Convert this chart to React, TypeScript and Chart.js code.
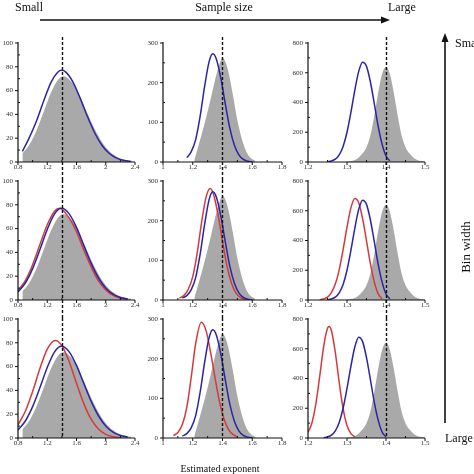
import React, { useEffect, useRef } from 'react';
import { Chart, registerables } from 'chart.js';

Chart.register(...registerables);

const FONT = "'Liberation Serif', 'Times New Roman', serif";
const BLUE = '#2a24a6';
const RED = '#d43a3c';
const GRAY = '#a9a9a9';

// ---- tick values / labels ----
const X1_TICKS = [0.8, 1.2, 1.6, 2.0, 2.4];
const X1_LABELS = ['0.8', '1.2', '1.6', '2', '2.4'];
const X2_TICKS = [1.0, 1.2, 1.4, 1.6, 1.8];
const X2_LABELS = ['1', '1.2', '1.4', '1.6', '1.8'];
const X3_TICKS = [1.2, 1.3, 1.4, 1.5];
const X3_LABELS = ['1.2', '1.3', '1.4', '1.5'];
const Y1_TICKS = [0, 20, 40, 60, 80, 100];
const Y2_TICKS = [0, 100, 200, 300];
const Y3_TICKS = [0, 200, 400, 600, 800];
const TRUE_EXPONENT = 1.4;

// ---- column 1 (smallest sample) ----
const G1_X = [0.86, 0.95, 1.05, 1.15, 1.25, 1.35, 1.42, 1.45, 1.55, 1.65, 1.75, 1.85, 1.95, 2.05, 2.15, 2.25, 2.35];
const G1_Y = [7.1, 14.0, 26.1, 42.0, 58.1, 69.4, 72.0, 71.7, 65.9, 54.7, 40.8, 27.5, 16.7, 9.1, 4.5, 2.0, 0.8];
const B11_X = [0.86, 0.95, 1.05, 1.15, 1.25, 1.35, 1.395, 1.45, 1.55, 1.65, 1.75, 1.85, 1.95, 2.05, 2.15, 2.25, 2.35];
const B11_Y = [9, 19.8, 34.0, 51, 66.7, 75.9, 77, 75.7, 67.4, 53.7, 38.2, 24.4, 13.9, 7.1, 3.2, 1.3, 0.5];
const B1_X = [0.8, 0.9, 1.0, 1.1, 1.2, 1.3, 1.395, 1.5, 1.6, 1.7, 1.8, 1.9, 2.0, 2.1, 2.2, 2.3];
const B1_Y = [6.8, 14.3, 26.4, 42.4, 59.3, 72.4, 77, 72.4, 61, 45.9, 31, 18.7, 10.1, 4.9, 2.1, 0.8];
const R21_X = [0.8, 0.9, 1.0, 1.1, 1.2, 1.3, 1.37, 1.5, 1.6, 1.7, 1.8, 1.9, 2.0, 2.1, 2.2, 2.3];
const R21_Y = [7.8, 16.3, 29.6, 46.6, 63.2, 74.6, 77, 68.8, 57.4, 42, 27.8, 16, 8.5, 3.9, 1.6, 0.6];
const R31_X = [0.8, 0.9, 1.0, 1.1, 1.2, 1.31, 1.4, 1.5, 1.6, 1.7, 1.8, 1.9, 2.0, 2.1, 2.2];
const R31_Y = [11.1, 22.5, 39.1, 58.4, 74.7, 82, 77.6, 64, 46, 28.9, 15.8, 7.5, 3.1, 1.1, 0.3];

// ---- column 2 ----
const G2_X = [1.21, 1.23, 1.26, 1.29, 1.32, 1.35, 1.38, 1.40, 1.42, 1.44, 1.47, 1.50, 1.53, 1.56, 1.59, 1.62];
const G2_Y = [4, 30, 70, 112, 158, 207, 248, 262, 252, 227, 169, 105, 58, 26, 10, 3];
const B2_X = [1.13, 1.16, 1.19, 1.22, 1.25, 1.28, 1.31, 1.335, 1.36, 1.39, 1.42, 1.45, 1.48, 1.51, 1.54, 1.57, 1.60];
const B2_Y = [5, 11, 26, 57, 116, 191, 253, 273, 258, 209, 144, 84, 42, 18, 6.5, 2, 0.5];
const R22_X = [1.11, 1.14, 1.17, 1.20, 1.23, 1.26, 1.29, 1.317, 1.34, 1.37, 1.40, 1.43, 1.46, 1.49, 1.52, 1.55, 1.58];
const R22_Y = [5, 11, 27, 59, 119, 197, 260, 281, 266, 215, 148, 86, 43, 18, 6.5, 2, 0.5];
const R32_X = [1.07, 1.10, 1.13, 1.16, 1.19, 1.22, 1.258, 1.29, 1.32, 1.35, 1.38, 1.41, 1.44, 1.47, 1.50];
const R32_Y = [6, 14, 34, 77, 154, 239, 292, 270, 216, 151, 91, 48, 22, 9, 3];

// ---- column 3 (largest sample) ----
const G3_X = [1.30, 1.31, 1.32, 1.33, 1.34, 1.35, 1.36, 1.37, 1.38, 1.39, 1.40, 1.41, 1.42, 1.43, 1.44, 1.45, 1.46, 1.47, 1.48, 1.49, 1.50];
const G3_Y = [2, 6, 14, 30, 58, 100, 178, 311, 465, 591, 640, 591, 465, 311, 178, 100, 58, 30, 14, 6, 2];
const B3_X = [1.25, 1.26, 1.27, 1.28, 1.29, 1.30, 1.31, 1.32, 1.33, 1.34, 1.35, 1.36, 1.37, 1.38, 1.39, 1.40, 1.41];
const B3_Y = [2, 7, 19, 48, 105, 200, 333, 482, 609, 671, 643, 538, 392, 240, 120, 40, 8];
const B33_X = [1.24, 1.25, 1.26, 1.27, 1.28, 1.29, 1.30, 1.31, 1.32, 1.33, 1.34, 1.35, 1.36, 1.37, 1.38, 1.39, 1.40];
const B33_Y = [2, 7, 19, 48, 105, 200, 333, 482, 612, 678, 648, 540, 392, 240, 120, 40, 8];
const R23_X = [1.23, 1.24, 1.25, 1.26, 1.27, 1.28, 1.29, 1.30, 1.31, 1.32, 1.33, 1.34, 1.35, 1.36, 1.37, 1.38, 1.39];
const R23_Y = [2, 7, 19, 49, 107, 203, 338, 490, 619, 682, 654, 547, 398, 244, 122, 41, 8];
const R33_X = [1.20, 1.21, 1.22, 1.23, 1.24, 1.25, 1.254, 1.26, 1.27, 1.28, 1.29, 1.30, 1.31, 1.32];
const R33_Y = [37, 101, 227, 414, 613, 738, 750, 723, 576, 373, 197, 84, 29, 8];

// ---- layout ----
const PAD_L = 24;
const PAD_R = 12;
const PAD_T = 10;
const PAD_B = 18;
const COLS = [
  { l: 18, r: 135 },
  { l: 163, r: 282 },
  { l: 308, r: 425 },
];
const ROWS = [
  { t: 43, b: 162 },
  { t: 181, b: 300 },
  { t: 319, b: 438 },
];

type Series = { xs: number[]; ys: number[]; kind: 'fill' | 'line'; color?: string };

const COL_AXES = [
  { xMin: 0.8, xMax: 2.4, xTicks: X1_TICKS, xLabels: X1_LABELS, yMax: 100, yTicks: Y1_TICKS },
  { xMin: 1.0, xMax: 1.8, xTicks: X2_TICKS, xLabels: X2_LABELS, yMax: 300, yTicks: Y2_TICKS },
  { xMin: 1.2, xMax: 1.5, xTicks: X3_TICKS, xLabels: X3_LABELS, yMax: 800, yTicks: Y3_TICKS },
];

const PANELS: Series[][][] = [
  [
    [{ xs: G1_X, ys: G1_Y, kind: 'fill' }, { xs: B11_X, ys: B11_Y, kind: 'line', color: BLUE }],
    [{ xs: G2_X, ys: G2_Y, kind: 'fill' }, { xs: B2_X.slice(1), ys: B2_Y.slice(1), kind: 'line', color: BLUE }],
    [{ xs: G3_X, ys: G3_Y, kind: 'fill' }, { xs: B3_X, ys: B3_Y, kind: 'line', color: BLUE }],
  ],
  [
    [{ xs: G1_X, ys: G1_Y, kind: 'fill' }, { xs: R21_X, ys: R21_Y, kind: 'line', color: RED }, { xs: B1_X, ys: B1_Y, kind: 'line', color: BLUE }],
    [{ xs: G2_X, ys: G2_Y, kind: 'fill' }, { xs: R22_X, ys: R22_Y, kind: 'line', color: RED }, { xs: B2_X, ys: B2_Y, kind: 'line', color: BLUE }],
    [{ xs: G3_X, ys: G3_Y, kind: 'fill' }, { xs: R23_X, ys: R23_Y, kind: 'line', color: RED }, { xs: B3_X, ys: B3_Y, kind: 'line', color: BLUE }],
  ],
  [
    [{ xs: G1_X, ys: G1_Y, kind: 'fill' }, { xs: R31_X, ys: R31_Y, kind: 'line', color: RED }, { xs: B1_X, ys: B1_Y, kind: 'line', color: BLUE }],
    [{ xs: G2_X, ys: G2_Y, kind: 'fill' }, { xs: R32_X, ys: R32_Y, kind: 'line', color: RED }, { xs: B2_X, ys: B2_Y, kind: 'line', color: BLUE }],
    [{ xs: G3_X, ys: G3_Y, kind: 'fill' }, { xs: R33_X, ys: R33_Y, kind: 'line', color: RED }, { xs: B33_X, ys: B33_Y, kind: 'line', color: BLUE }],
  ],
];

function midpoints(a: number[]): number[] {
  const out: number[] = [];
  for (let i = 0; i < a.length - 1; i++) out.push((a[i] + a[i + 1]) / 2);
  return out;
}

function Panel({ row, col }: { row: number; col: number }) {
  const ref = useRef<HTMLCanvasElement | null>(null);
  const c = COLS[col];
  const r = ROWS[row];
  const w = c.r - c.l + PAD_L + PAD_R;
  const h = r.b - r.t + PAD_T + PAD_B;
  const ax = COL_AXES[col];

  useEffect(() => {
    const canvas = ref.current;
    if (!canvas) return;
    const series = PANELS[row][col];
    const datasets = series.map((s, i) => {
      const data = s.xs.map((x, k) => ({ x, y: s.ys[k] }));
      if (s.kind === 'fill') {
        return {
          data,
          borderWidth: 0,
          borderColor: GRAY,
          backgroundColor: GRAY,
          fill: 'origin',
          pointRadius: 0,
          cubicInterpolationMode: 'monotone' as const,
          order: 10,
        };
      }
      return {
        data,
        borderWidth: 1.5,
        borderColor: s.color,
        backgroundColor: s.color,
        fill: false,
        pointRadius: 0,
        cubicInterpolationMode: 'monotone' as const,
        order: 5 - i,
      };
    });

    const decor = {
      id: 'decor' + row + col,
      afterDraw(chart: any) {
        const { ctx, chartArea } = chart;
        const xs = chart.scales.x;
        const ys = chart.scales.y;
        ctx.save();
        ctx.strokeStyle = '#111';
        ctx.lineWidth = 1.2;
        ctx.beginPath();
        ctx.moveTo(chartArea.left, chartArea.top - 1);
        ctx.lineTo(chartArea.left, chartArea.bottom);
        ctx.lineTo(chartArea.right, chartArea.bottom);
        ctx.stroke();
        ctx.lineWidth = 1;
        ctx.beginPath();
        for (const v of ax.xTicks) {
          const p = xs.getPixelForValue(v);
          ctx.moveTo(p, chartArea.bottom);
          ctx.lineTo(p, chartArea.bottom + 3);
        }
        for (const v of midpoints(ax.xTicks)) {
          const p = xs.getPixelForValue(v);
          ctx.moveTo(p, chartArea.bottom);
          ctx.lineTo(p, chartArea.bottom - 2);
        }
        for (const v of ax.yTicks) {
          const p = ys.getPixelForValue(v);
          ctx.moveTo(chartArea.left, p);
          ctx.lineTo(chartArea.left - 3, p);
        }
        for (const v of midpoints(ax.yTicks)) {
          const p = ys.getPixelForValue(v);
          ctx.moveTo(chartArea.left, p);
          ctx.lineTo(chartArea.left + 2, p);
        }
        ctx.stroke();
        // dashed reference line at the true exponent
        const px = Math.round(xs.getPixelForValue(TRUE_EXPONENT)) + 0.5;
        const y0 = row === 0 ? chartArea.top - 6 : chartArea.top - 1;
        const y1 = row === 2 ? chartArea.bottom : chart.height;
        ctx.setLineDash([3, 2]);
        ctx.lineWidth = 1.4;
        ctx.beginPath();
        ctx.moveTo(px, y0);
        ctx.lineTo(px, y1);
        ctx.stroke();
        ctx.restore();
      },
    };

    const tickFont = { family: FONT, size: 7 };
    const chart = new Chart(canvas, {
      type: 'line',
      data: { datasets: datasets as any },
      options: {
        responsive: false,
        animation: false,
        devicePixelRatio: 1,
        events: [],
        layout: { autoPadding: false, padding: { left: 0, right: PAD_R, top: PAD_T, bottom: 0 } },
        plugins: { legend: { display: false }, tooltip: { enabled: false } },
        scales: {
          x: {
            type: 'linear',
            min: ax.xMin,
            max: ax.xMax,
            afterFit: (s: any) => {
              s.height = PAD_B;
            },
            afterBuildTicks: (s: any) => {
              s.ticks = ax.xTicks.map((v) => ({ value: v }));
            },
            ticks: {
              autoSkip: false,
              maxRotation: 0,
              minRotation: 0,
              padding: 1,
              color: '#333',
              font: tickFont,
              callback: (_v: any, i: number) => ax.xLabels[i],
            },
            grid: { display: false, drawTicks: false },
            border: { display: false },
          },
          y: {
            type: 'linear',
            min: 0,
            max: ax.yMax,
            afterFit: (s: any) => {
              s.width = PAD_L;
            },
            afterBuildTicks: (s: any) => {
              s.ticks = ax.yTicks.map((v) => ({ value: v }));
            },
            ticks: {
              autoSkip: false,
              padding: 5,
              color: '#333',
              font: tickFont,
              callback: (v: any) => String(v),
            },
            grid: { display: false, drawTicks: false },
            border: { display: false },
          },
        },
      } as any,
      plugins: [decor],
    });
    return () => chart.destroy();
  }, [row, col]);

  return (
    <canvas
      ref={ref}
      width={w}
      height={h}
      style={{ position: 'absolute', left: c.l - PAD_L, top: r.t - PAD_T, width: w, height: h }}
    />
  );
}

export default function App() {
  const cells: React.ReactElement[] = [];
  for (let rr = 0; rr < 3; rr++) for (let cc = 0; cc < 3; cc++) cells.push(<Panel key={rr + '-' + cc} row={rr} col={cc} />);
  return (
    <div style={{ position: 'fixed', left: 0, top: 0, width: 474, height: 474, background: '#fff', overflow: 'hidden' }}>
      {cells}
      <svg
        width={474}
        height={474}
        style={{ position: 'absolute', left: 0, top: 0, pointerEvents: 'none' }}
        fontFamily={FONT}
      >
        <text x={15} y={11} fontSize={12} fill="#111">Small</text>
        <text x={224} y={11} fontSize={12} fill="#111" textAnchor="middle">Sample size</text>
        <text x={388} y={11} fontSize={12} fill="#111">Large</text>
        <line x1={40} y1={20} x2={382} y2={20} stroke="#111" strokeWidth={1.6} />
        <polygon points="390,20 381,16.5 381,23.5" fill="#111" />
        <line x1={445} y1={423} x2={445} y2={41} stroke="#111" strokeWidth={1.6} />
        <polygon points="445,33 441.5,42 448.5,42" fill="#111" />
        <text x={455} y={47} fontSize={12} fill="#111">Small</text>
        <text transform="translate(470,247) rotate(-90)" fontSize={13} fill="#111" textAnchor="middle">Bin width</text>
        <text x={445} y={441.5} fontSize={12} fill="#111">Large</text>
        <text x={220} y={471.5} fontSize={10} fill="#111" textAnchor="middle">Estimated exponent</text>
      </svg>
    </div>
  );
}
